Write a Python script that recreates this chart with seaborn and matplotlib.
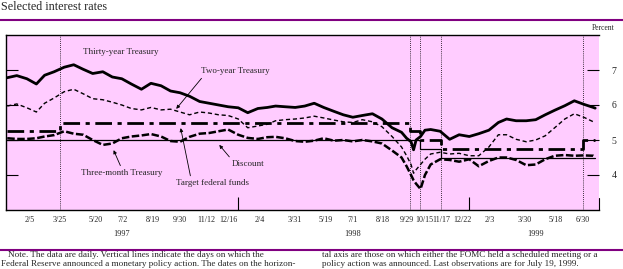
import matplotlib
matplotlib.use("Agg")
import matplotlib.pyplot as plt
import matplotlib.transforms as mtransforms
import seaborn as sns
import pandas as pd

# Observation dates (semi-monthly, plus extra points around the fall 1998 turmoil)
obs_dates = [
    "1997-01-01", "1997-01-16", "1997-02-01", "1997-02-16", "1997-03-01", "1997-03-16",
    "1997-04-01", "1997-04-16", "1997-05-01", "1997-05-16", "1997-06-01", "1997-06-16",
    "1997-07-01", "1997-07-16", "1997-08-01", "1997-08-16", "1997-09-01", "1997-09-16",
    "1997-10-01", "1997-10-16", "1997-11-01", "1997-11-16", "1997-12-01", "1997-12-16",
    "1998-01-01", "1998-01-16", "1998-02-01", "1998-02-16", "1998-03-01", "1998-03-16",
    "1998-04-01", "1998-04-16", "1998-05-01", "1998-05-16", "1998-06-01", "1998-06-16",
    "1998-07-01", "1998-07-16", "1998-08-01", "1998-08-16", "1998-09-01", "1998-09-16",
    "1998-09-24", "1998-10-01", "1998-10-05", "1998-10-09", "1998-10-16", "1998-10-23",
    "1998-11-01", "1998-11-16", "1998-12-01", "1998-12-16",
    "1999-01-01", "1999-01-16", "1999-02-01", "1999-02-16", "1999-03-01", "1999-03-16",
    "1999-04-01", "1999-04-16", "1999-05-01", "1999-05-16", "1999-06-01", "1999-06-16",
    "1999-07-01", "1999-07-16", "1999-07-19",
]

thirty_year = [
    6.78, 6.84, 6.75, 6.60, 6.85, 6.95, 7.08, 7.15, 7.02, 6.90, 6.95, 6.80,
    6.75, 6.60, 6.45, 6.62, 6.55, 6.40, 6.35, 6.25, 6.10, 6.05, 6.00, 5.95,
    5.92, 5.78, 5.90, 5.93, 5.97, 5.95, 5.93, 5.97, 6.05, 5.93, 5.82, 5.72,
    5.65, 5.70, 5.75, 5.60, 5.35, 5.22, 5.05, 4.95, 4.72, 5.00, 5.10, 5.28,
    5.30, 5.25, 5.02, 5.15,
    5.10, 5.18, 5.28, 5.50, 5.60, 5.55, 5.55, 5.58, 5.72, 5.85, 5.98, 6.12,
    6.02, 5.93, 5.91,
]

two_year = [
    5.97, 6.03, 5.92, 5.80, 6.05, 6.20, 6.38, 6.45, 6.32, 6.18, 6.15, 6.08,
    6.00, 5.90, 5.86, 5.93, 5.86, 5.88, 5.80, 5.72, 5.80, 5.77, 5.72, 5.70,
    5.60, 5.35, 5.40, 5.45, 5.55, 5.58, 5.60, 5.63, 5.68, 5.63, 5.57, 5.52,
    5.50, 5.58, 5.52, 5.38, 5.10, 4.80, 4.55, 4.30, 4.05, 4.15, 4.30, 4.45,
    4.60, 4.65, 4.60, 4.62,
    4.55, 4.55, 4.80, 5.15, 5.15, 5.02, 4.95, 5.00, 5.12, 5.35, 5.60, 5.75,
    5.65, 5.52, 5.50,
]

three_month = [
    5.05, 5.03, 5.03, 5.05, 5.10, 5.14, 5.25, 5.18, 5.15, 5.00, 4.86, 4.90,
    5.05, 5.10, 5.13, 5.17, 5.10, 4.97, 4.95, 5.09, 5.18, 5.20, 5.25, 5.30,
    5.15, 5.06, 5.03, 5.08, 5.09, 5.05, 4.97, 4.95, 4.98, 5.05, 4.98, 5.00,
    4.96, 5.00, 4.96, 4.90, 4.70, 4.50, 4.25, 4.00, 3.85, 3.75, 3.60, 4.00,
    4.30, 4.45, 4.43, 4.38,
    4.45, 4.25, 4.40, 4.50, 4.50, 4.43, 4.28, 4.30, 4.45, 4.55, 4.57, 4.55,
    4.56, 4.55, 4.52,
]

fed_funds_dates = ["1997-01-01", "1997-03-25", "1998-09-29", "1998-10-15",
                   "1998-11-17", "1999-06-30", "1999-07-19"]
fed_funds = [5.25, 5.50, 5.25, 5.00, 4.75, 5.00, 5.00]

discount_dates = ["1997-01-01", "1998-10-15", "1998-11-17", "1999-07-19"]
discount = [5.00, 4.75, 4.50, 4.50]

policy_dates = ["1997-03-25", "1998-09-29", "1998-10-15", "1998-11-17", "1999-06-30"]

tick_dates = ["1997-02-05", "1997-03-25", "1997-05-20", "1997-07-02", "1997-08-19",
              "1997-09-30", "1997-11-12", "1997-12-16", "1998-02-04", "1998-03-31",
              "1998-05-19", "1998-07-01", "1998-08-18", "1998-09-29", "1998-10-15",
              "1998-11-17", "1998-12-22", "1999-02-03", "1999-03-30", "1999-05-18",
              "1999-06-30"]
tick_labels = ["2/5", "3/25", "5/20", "7/2", "8/19", "9/30", "11/12", "12/16",
               "2/4", "3/31", "5/19", "7/1", "8/18", "9/29", "10/15", "11/17",
               "12/22", "2/3", "3/30", "5/18", "6/30"]
year_breaks = ["1998-01-01", "1999-01-01"]
years = ["1997", "1998", "1999"]
year_label_dates = ["1997-07-01", "1998-07-01", "1999-04-15"]

sns.set_theme(style="white")
plt.rcParams["font.family"] = ["Liberation Serif", "DejaVu Serif"]

obs = pd.to_datetime(obs_dates)
df = pd.DataFrame({"date": obs, "thirty": thirty_year, "two": two_year, "three": three_month})
ff = pd.DataFrame({"date": pd.to_datetime(fed_funds_dates), "rate": fed_funds})
disc = pd.DataFrame({"date": pd.to_datetime(discount_dates), "rate": discount})

fig = plt.figure(figsize=(6.23, 2.69), dpi=100)
ax = fig.add_axes([6 / 623, 1 - 210 / 269, 593 / 623, 175 / 269])
ax.set_facecolor("#ffccff")

for d in policy_dates:
    ax.axvline(pd.Timestamp(d), color="black", lw=0.6, ls=(0, (1, 1.5)), zorder=1)

sns.lineplot(data=disc, x="date", y="rate", ax=ax, color="black", lw=0.9,
             drawstyle="steps-post", zorder=2)
sns.lineplot(data=ff, x="date", y="rate", ax=ax, color="black", lw=2.0,
             drawstyle="steps-post", linestyle=(0, (6, 2, 1.5, 2)), zorder=3)
sns.lineplot(data=df, x="date", y="three", ax=ax, color="black", lw=1.8,
             linestyle=(0, (3, 1)), zorder=4)
sns.lineplot(data=df, x="date", y="two", ax=ax, color="black", lw=1.0,
             linestyle=(0, (3, 2)), zorder=4)
sns.lineplot(data=df, x="date", y="thirty", ax=ax, color="black", lw=2.0, zorder=5)

ax.set_xlim(pd.Timestamp("1996-12-30"), pd.Timestamp("1999-07-25"))
ax.set_ylim(3, 8)
ax.set_xlabel("")
ax.set_ylabel("")

for s in ["left", "top", "bottom"]:
    ax.spines[s].set_color("black")
    ax.spines[s].set_linewidth(1.0)
ax.spines["right"].set_visible(False)

ax.set_yticks([4, 5, 6, 7])
ax.yaxis.set_ticks_position("both")
ax.tick_params(axis="y", direction="in", length=8.5, width=0.8, color="black",
               labelleft=False, labelright=True, pad=9, labelsize=7)

ax.set_xticks(pd.to_datetime(tick_dates))
ax.set_xticklabels(tick_labels)
ax.set_xticks(pd.to_datetime(year_breaks), minor=True)
ax.tick_params(axis="x", which="major", direction="in", length=6.5, width=0.8,
               color="black", pad=4, labelsize=5.8)
ax.tick_params(axis="x", which="minor", direction="in", length=9.5, width=0.8,
               color="black", bottom=True)

# nudge the crowded October 1998 labels apart, as in the original
nudges = {"9/29": -3, "10/15": 4, "11/17": 1}
for lab in ax.get_xticklabels():
    dx = nudges.get(lab.get_text())
    if dx:
        lab.set_transform(lab.get_transform() +
                          mtransforms.ScaledTranslation(dx / 100, 0, fig.dpi_scale_trans))

# short end mark at right edge of the axis
ax.plot([1, 1], [0, 0.07], transform=ax.transAxes, color="black", lw=0.8, clip_on=False)

trans = mtransforms.blended_transform_factory(ax.transData, ax.transAxes)
for y, d in zip(years, year_label_dates):
    ax.text(pd.Timestamp(d), -0.135, y, transform=trans, ha="center", va="center", fontsize=6)

arrow = dict(arrowstyle="-|>", color="black", lw=0.6, mutation_scale=5, shrinkA=0, shrinkB=0)
ax.text(pd.Timestamp("1997-06-30"), 7.51, "Thirty-year Treasury", ha="center", va="center", fontsize=6.5)
ax.annotate("Two-year Treasury", xy=(pd.Timestamp("1997-09-25"), 5.89),
            xytext=(pd.Timestamp("1997-12-27"), 6.97), ha="center", va="center",
            fontsize=6.5, arrowprops=dict(arrow, relpos=(0.05, 0)))
ax.annotate("Three-month Treasury", xy=(pd.Timestamp("1997-06-18"), 4.71),
            xytext=(pd.Timestamp("1997-07-01"), 4.06), ha="center", va="center",
            fontsize=6.5, arrowprops=dict(arrow, relpos=(0.5, 1)))
ax.annotate("Target federal funds", xy=(pd.Timestamp("1997-10-02"), 5.34),
            xytext=(pd.Timestamp("1997-11-22"), 3.77), ha="center", va="center",
            fontsize=6.5, arrowprops=dict(arrow, relpos=(0.2, 1)))
ax.annotate("Discount", xy=(pd.Timestamp("1997-12-02"), 4.86),
            xytext=(pd.Timestamp("1998-01-17"), 4.31), ha="center", va="center",
            fontsize=6.5, arrowprops=dict(arrow, relpos=(0.0, 1)))

fig.text(0.002, 1 - 10 / 269, "Selected interest rates", fontsize=8.7, va="baseline", ha="left")
fig.text(603 / 623, 1 - 28 / 269, "Percent", fontsize=5.5, ha="center", va="center")
fig.add_artist(plt.Line2D([0, 1], [1 - 20 / 269] * 2, color="#800080", lw=1.5))
fig.add_artist(plt.Line2D([0, 1], [1 - 250 / 269] * 2, color="#800080", lw=1.5))

note_kw = dict(fontsize=6.6, va="center", ha="left")
fig.text(8 / 623, 1 - 255 / 269,
         "Note. The data are daily. Vertical lines indicate the days on which the", **note_kw)
fig.text(1 / 623, 1 - 264.5 / 269,
         "Federal Reserve announced a monetary policy action. The dates on the horizon-", **note_kw)
fig.text(322 / 623, 1 - 255 / 269,
         "tal axis are those on which either the FOMC held a scheduled meeting or a", **note_kw)
fig.text(322 / 623, 1 - 264.5 / 269,
         "policy action was announced. Last observations are for July 19, 1999.", **note_kw)

fig.savefig("out.png", dpi=100)
